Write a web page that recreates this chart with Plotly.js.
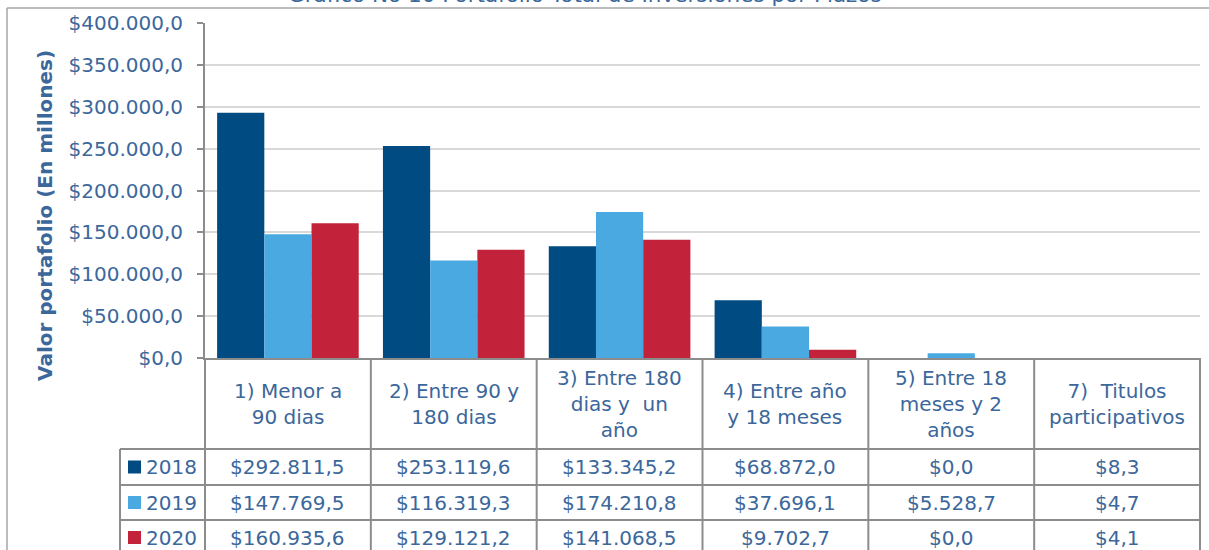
<!DOCTYPE html>
<html>
<head>
<meta charset="utf-8">
<script src="https://cdn.plot.ly/plotly-3.0.1.min.js"></script>
<style>html,body{margin:0;padding:0;background:#fff;}#chart{width:1209px;height:550px;}</style>
</head>
<body>
<div id="chart"></div>
<script>
// ---- data ----
var categories = ['1) Menor a 90 dias', '2) Entre 90 y 180 dias', '3) Entre 180 dias y un año',
                  '4) Entre año y 18 meses', '5) Entre 18 meses y 2 años', '7) Titulos participativos'];
var headerLabels = ['1) Menor a<br>90 dias', '2) Entre 90 y<br>180 dias', '3) Entre 180<br>dias y\u00a0 un<br>año',
                    '4) Entre año<br>y 18 meses', '5) Entre 18<br>meses y 2<br>años', '7)\u00a0 Titulos<br>participativos'];
var seriesNames = ['2018', '2019', '2020'];
var v2018 = [292811.5, 253119.6, 133345.2, 68872.0, 0.0, 8.3];
var v2019 = [147769.5, 116319.3, 174210.8, 37696.1, 5528.7, 4.7];
var v2020 = [160935.6, 129121.2, 141068.5, 9702.7, 0.0, 4.1];
var yTickVals = [0, 50000, 100000, 150000, 200000, 250000, 300000, 350000, 400000];

var seriesValues = [v2018, v2019, v2020];
var colors = ['#004b82', '#4aa9e0', '#c3223b'];
var textColor = '#3b679b';
var gridLineColor = '#8c8c8c';
var FONT = 'DejaVu Sans';

// layout geometry (pixels)
var W = 1209, H = 550, L = 205, R = 9, T = 23, B = 192;
var PW = W - L - R, PH = H - T - B;
function px(x) { return (x - L) / PW; }
function py(y) { return (H - B - y) / PH; }

function fmt(v) {
  var s = v.toFixed(1);
  var parts = s.split('.');
  var ip = parts[0].replace(/\B(?=(\d{3})+(?!\d))/g, '.');
  return '$' + ip + ',' + parts[1];
}

var traces = seriesNames.map(function (n, k) {
  return {
    type: 'bar', name: n, x: categories, y: seriesValues[k],
    marker: {color: colors[k]}, hoverinfo: 'none'
  };
});

var shapes = [];
var annotations = [];

// outer chart border
shapes.push({type: 'line', xref: 'paper', yref: 'paper', x0: px(7), x1: px(1212), y0: py(8), y1: py(8), line: {color: '#a6a6a6', width: 1.5}});
shapes.push({type: 'line', xref: 'paper', yref: 'paper', x0: px(7), x1: px(7), y0: py(8), y1: py(560), line: {color: '#a6a6a6', width: 1.5}});

// data table grid
var rowLines = [449, 485, 520];
rowLines.forEach(function (yy) {
  shapes.push({type: 'line', xref: 'paper', yref: 'paper', x0: px(120), x1: 1, y0: py(yy), y1: py(yy), line: {color: gridLineColor, width: 2}});
});
shapes.push({type: 'line', xref: 'paper', yref: 'paper', x0: px(120), x1: px(120), y0: py(449), y1: py(560), line: {color: gridLineColor, width: 2}});
for (var i = 0; i <= categories.length; i++) {
  shapes.push({type: 'line', xref: 'paper', yref: 'paper', x0: i / categories.length, x1: i / categories.length, y0: 0, y1: py(560), line: {color: gridLineColor, width: 2}});
}

// header labels
categories.forEach(function (c, i) {
  annotations.push({xref: 'x', yref: 'paper', x: c, y: py(403.5), text: headerLabels[i], showarrow: false,
    xanchor: 'center', yanchor: 'middle', font: {family: FONT, size: 20, color: textColor}});
});

// rows
var rowCenters = [467, 502.5, 537.5];
seriesNames.forEach(function (n, k) {
  shapes.push({type: 'rect', xref: 'paper', yref: 'paper', x0: px(128), x1: px(141), y0: py(rowCenters[k] - 6.5), y1: py(rowCenters[k] + 6.5),
    fillcolor: colors[k], line: {width: 0}});
  annotations.push({xref: 'paper', yref: 'paper', x: px(144), y: py(rowCenters[k]), text: n, showarrow: false,
    xanchor: 'left', yanchor: 'middle', font: {family: FONT, size: 20, color: textColor}});
  categories.forEach(function (c, i) {
    annotations.push({xref: 'x', yref: 'paper', x: c, y: py(rowCenters[k]), text: fmt(seriesValues[k][i]), showarrow: false,
      xanchor: 'center', yanchor: 'middle', font: {family: FONT, size: 20, color: textColor}});
  });
});

// title (cut off at top, as in the reference)
annotations.push({xref: 'paper', yref: 'paper', x: px(585), y: 1, yshift: 14, xanchor: 'center', yanchor: 'bottom',
  text: 'Gráfico No 10 Portafolio Total de Inversiones por Plazos', showarrow: false,
  font: {family: FONT, size: 21.5, color: textColor}});

// y-axis title
annotations.push({xref: 'paper', yref: 'paper', x: px(45), y: py(216), xanchor: 'center', yanchor: 'middle',
  text: '<b>Valor portafolio (En millones)</b>', textangle: -90, showarrow: false,
  font: {family: FONT, size: 20, color: textColor}});

var layout = {
  width: W, height: H,
  margin: {l: L, r: R, t: T, b: B, pad: 0},
  paper_bgcolor: '#ffffff', plot_bgcolor: '#ffffff',
  separators: ',.',
  barmode: 'group', bargap: 0.146, bargroupgap: 0,
  showlegend: false,
  xaxis: {type: 'category', range: [-0.5, 5.5], showticklabels: false, ticks: '', showgrid: false,
    showline: true, linecolor: gridLineColor, linewidth: 2, zeroline: false, fixedrange: true},
  yaxis: {range: [0, 400000], tickvals: yTickVals, tickformat: '$,.1f',
    showgrid: true, gridcolor: '#d9d9d9', gridwidth: 2, zeroline: false,
    showline: true, linecolor: gridLineColor, linewidth: 2,
    ticks: 'outside', ticklen: 6, tickwidth: 2, tickcolor: gridLineColor, ticklabelstandoff: 10,
    tickfont: {family: FONT, size: 20, color: textColor}, fixedrange: true},
  shapes: shapes,
  annotations: annotations
};

Plotly.newPlot('chart', traces, layout, {displayModeBar: false, staticPlot: true});
</script>
</body>
</html>
